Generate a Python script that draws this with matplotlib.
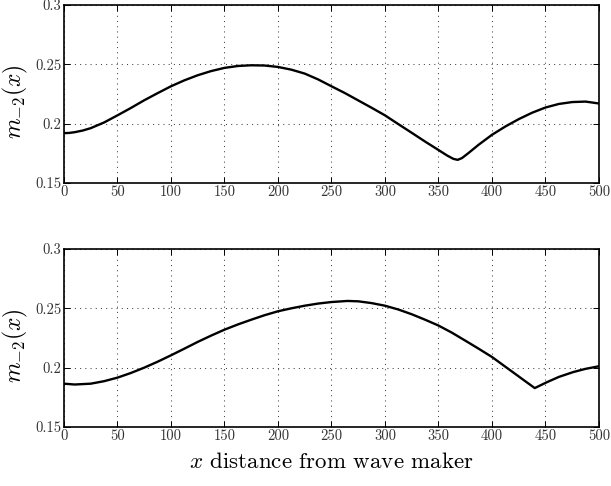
import numpy as np
import matplotlib
matplotlib.use("Agg")
import matplotlib.pyplot as plt

plt.rcParams['mathtext.fontset'] = 'cm'
plt.rcParams['font.family'] = 'serif'
plt.rcParams['font.serif'] = ['cmr10', 'DejaVu Serif']
plt.rcParams['axes.formatter.use_mathtext'] = True

# top panel
x_top = [0, 5, 10, 17.5, 25, 37.5, 50, 62.5, 75, 87.5, 100, 112.5, 125, 137.5, 150, 162.5, 175,
         187.5, 200, 212.5, 225, 237.5, 250, 262.5, 275, 287.5, 300, 312.5, 325, 337.5,
         350, 358, 364, 368, 372, 378, 387.5, 400, 412.5, 425, 437.5, 450, 462.5, 475,
         487.5, 500]
m_top = [0.1920, 0.1922, 0.1928, 0.1942, 0.1962, 0.2010, 0.2070, 0.2132, 0.2197, 0.2257,
         0.2315, 0.2365, 0.2408, 0.2443, 0.2470, 0.2486, 0.2492, 0.2490, 0.2478, 0.2455,
         0.2422, 0.2373, 0.2315, 0.2258, 0.2196, 0.2134, 0.2070, 0.1996, 0.1923, 0.1849,
         0.1778, 0.1732, 0.1703, 0.1695, 0.1710, 0.1752, 0.1822, 0.1906, 0.1976, 0.2038,
         0.2092, 0.2136, 0.2166, 0.2182, 0.2186, 0.2170]

# bottom panel
x_bot = [0, 10, 25, 37.5, 50, 62.5, 75, 87.5, 100, 112.5, 125, 137.5, 150, 162.5, 175,
         187.5, 200, 212.5, 225, 237.5, 250, 265, 275, 287.5, 300, 312.5, 325, 337.5,
         350, 362.5, 375, 387.5, 400, 412.5, 425, 432, 440, 451, 462.5, 476, 487.5, 500]
m_bot = [0.1865, 0.1858, 0.1865, 0.1886, 0.1916, 0.1955, 0.2000, 0.2050, 0.2104, 0.2160,
         0.2217, 0.2270, 0.2320, 0.2364, 0.2404, 0.2442, 0.2475, 0.2500, 0.2522, 0.2540,
         0.2553, 0.2562, 0.2559, 0.2544, 0.2522, 0.2490, 0.2450, 0.2404, 0.2355, 0.2295,
         0.2228, 0.2160, 0.2090, 0.2008, 0.1926, 0.1880, 0.1828, 0.1876, 0.1922, 0.1963,
         0.1990, 0.2012]

x_ticks = [0, 50, 100, 150, 200, 250, 300, 350, 400, 450, 500]
y_ticks = [0.15, 0.2, 0.25, 0.3]
y_labels = ['0.15', '0.2', '0.25', '0.3']

fig = plt.figure(figsize=(6.11, 4.86), dpi=100)
ax1 = fig.add_axes([0.1047, 0.6235, 0.8756, 0.3662])
ax2 = fig.add_axes([0.1047, 0.1214, 0.8756, 0.3663])

for ax, x, m in [(ax1, x_top, m_top), (ax2, x_bot, m_bot)]:
    ax.plot(x, m, color='black', linewidth=1.7, solid_joinstyle='round')
    ax.set_xlim(0, 500)
    ax.set_ylim(0.15, 0.3)
    ax.set_xticks(x_ticks)
    ax.set_xticklabels([str(t) for t in x_ticks])
    ax.set_yticks(y_ticks)
    ax.set_yticklabels(y_labels)
    ax.tick_params(direction='in', length=4, width=0.7, top=True, right=True,
                   labelsize=10.5, pad=2, colors='black', labelcolor='#333333')
    ax.grid(True, linestyle=(0, (1, 4)), color='#444444', linewidth=0.75)
    for s in ax.spines.values():
        s.set_linewidth(1.2)
    ax.set_ylabel(r'$m_{-2}(x)$', fontsize=17)
    ax.yaxis.set_label_coords(-0.064, 0.46)

ax2.set_xlabel(r'$x$ distance from wave maker', fontsize=16.5, labelpad=6)

fig.savefig('out.png', dpi=100)
